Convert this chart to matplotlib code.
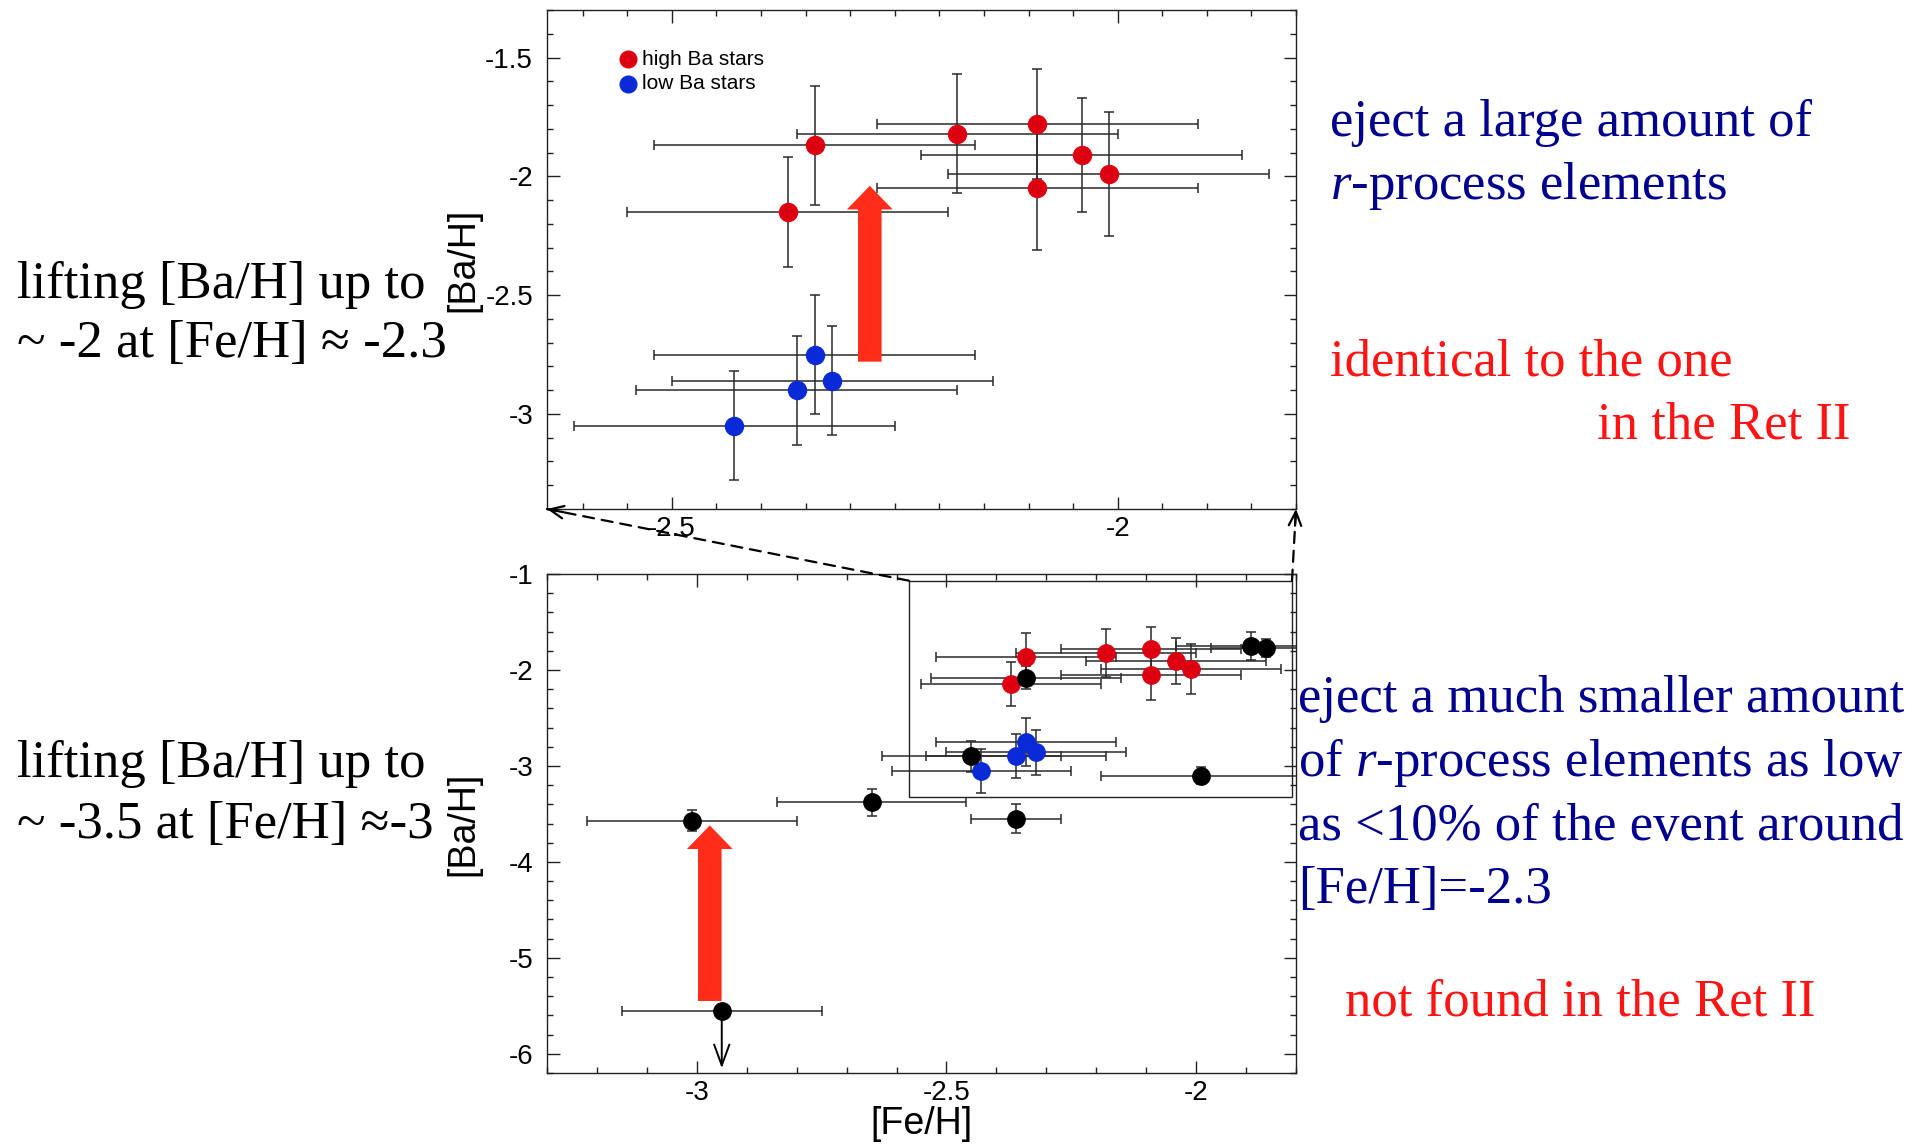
"""[Ba/H] vs [Fe/H] for Ret II-like stars: zoomed panel on top, full range below,
with annotation text on both sides."""

import matplotlib

matplotlib.use("Agg")
import matplotlib.pyplot as plt
from matplotlib.patches import ConnectionPatch, Rectangle
from matplotlib.ticker import FormatStrFormatter, MultipleLocator

# --------------------------------------------------------------------------- #
# data
# --------------------------------------------------------------------------- #
high_ba_feh = [-2.37, -2.34, -2.18, -2.09, -2.04, -2.01, -2.09]
high_ba_feh_err = [0.18, 0.18, 0.18, 0.18, 0.18, 0.18, 0.18]
high_ba_bah = [-2.15, -1.87, -1.82, -1.78, -1.91, -1.99, -2.05]
high_ba_bah_err = [0.23, 0.25, 0.25, 0.23, 0.24, 0.26, 0.26]

low_ba_feh = [-2.34, -2.32, -2.36, -2.43]
low_ba_feh_err = [0.18, 0.18, 0.18, 0.18]
low_ba_bah = [-2.75, -2.86, -2.90, -3.05]
low_ba_bah_err = [0.25, 0.23, 0.23, 0.23]

other_feh = [-3.01, -2.65, -2.36, -2.45, -2.34, -1.89, -1.86, -1.99]
other_feh_err = [0.21, 0.19, 0.09, 0.18, 0.19, 0.15, 0.11, 0.20]
other_bah = [-3.57, -3.38, -3.55, -2.90, -2.08, -1.75, -1.77, -3.10]
other_bah_err = [0.11, 0.14, 0.15, 0.16, 0.12, 0.15, 0.09, 0.09]

# upper limit star
limit_feh, limit_feh_err, limit_bah, limit_arrow_to = -2.95, 0.20, -5.55, -6.15

# zoom box drawn in the lower panel
zoom_box_feh = (-2.575, -1.808)
zoom_box_bah = (-3.32, -1.07)

# big red "lifting" arrows: (x, from, to)
lift_top = (-2.278, -2.78, -2.04)
lift_bottom = (-2.974, -5.45, -3.62)

legend_labels = ["high Ba stars", "low Ba stars"]

RED = "#dd0010"
BLUE = "#0a2ad8"
BLACK = "#000000"
ERR = "#2a2a2a"
ARROW_RED = "#ff2d1a"
NAVY = "#00008f"
TEXT_RED = "#ff1414"

W, H = 1933, 1144
plt.rcParams["font.family"] = ["Liberation Sans", "DejaVu Sans"]
plt.rcParams["axes.unicode_minus"] = False
plt.rcParams["mathtext.fontset"] = "custom"
plt.rcParams["mathtext.rm"] = "Liberation Serif"
plt.rcParams["mathtext.it"] = "Liberation Serif:italic"

fig = plt.figure(figsize=(W / 100, H / 100), dpi=100)


def px_axes(x0, y0, x1, y1):
    return fig.add_axes([x0 / W, 1 - y1 / H, (x1 - x0) / W, (y1 - y0) / H])


ax_top = px_axes(547, 10, 1296, 509)
ax_bot = px_axes(547, 574, 1296, 1073)


def style_axes(ax, xmaj, xmin, ymaj, ymin):
    ax.xaxis.set_major_locator(MultipleLocator(xmaj))
    ax.xaxis.set_minor_locator(MultipleLocator(xmin))
    ax.yaxis.set_major_locator(MultipleLocator(ymaj))
    ax.yaxis.set_minor_locator(MultipleLocator(ymin))
    ax.xaxis.set_major_formatter(FormatStrFormatter("%g"))
    ax.yaxis.set_major_formatter(FormatStrFormatter("%g"))
    ax.tick_params(which="both", direction="in", top=True, right=True,
                   width=1.0, color="#222222", labelsize=20)
    ax.tick_params(axis="x", which="both", pad=5)
    ax.tick_params(axis="y", which="both", pad=10)
    ax.tick_params(which="major", length=9)
    ax.tick_params(which="minor", length=4.5)
    for s in ax.spines.values():
        s.set_linewidth(1.0)
        s.set_color("#222222")


def draw_stars(ax, feh, feh_err, bah, bah_err, color, ms):
    ax.errorbar(feh, bah, xerr=feh_err, yerr=bah_err, fmt="none", ecolor=ERR,
                elinewidth=1.1, capsize=3.5, capthick=1.1, zorder=2)
    ax.plot(feh, bah, "o", color=color, mec=color, ms=ms, zorder=3)


def lift_arrow(ax, spec):
    x, y0, y1 = spec
    ax.annotate("", xy=(x, y1), xytext=(x, y0),
                arrowprops=dict(arrowstyle="simple,head_length=17,head_width=33,tail_width=17",
                                mutation_scale=1, color=ARROW_RED, lw=0,
                                shrinkA=0, shrinkB=0), zorder=4)


# ---- top: zoomed-in panel --------------------------------------------------
draw_stars(ax_top, high_ba_feh, high_ba_feh_err, high_ba_bah, high_ba_bah_err, RED, 13)
draw_stars(ax_top, low_ba_feh, low_ba_feh_err, low_ba_bah, low_ba_bah_err, BLUE, 13)
lift_arrow(ax_top, lift_top)
ax_top.set_xlim(-2.64, -1.8)
ax_top.set_ylim(-3.4, -1.3)
style_axes(ax_top, 0.5, 0.05, 0.5, 0.1)
ax_top.set_ylabel("[Ba/H]", fontsize=27)
ax_top.yaxis.set_label_coords(-0.087, 0.5)

# legend keys, placed by hand like the original
for (ky, color, label) in [(0.901, RED, legend_labels[0]), (0.852, BLUE, legend_labels[1])]:
    ax_top.plot([0.1077], [ky], "o", color=color, ms=12, transform=ax_top.transAxes,
                clip_on=False, zorder=5)
    ax_top.text(0.1275, ky, label, fontsize=15, va="center", ha="left",
                transform=ax_top.transAxes)

# ---- bottom: full range ----------------------------------------------------
draw_stars(ax_bot, high_ba_feh, high_ba_feh_err, high_ba_bah, high_ba_bah_err, RED, 12.5)
draw_stars(ax_bot, low_ba_feh, low_ba_feh_err, low_ba_bah, low_ba_bah_err, BLUE, 12.5)
draw_stars(ax_bot, other_feh, other_feh_err, other_bah, other_bah_err, BLACK, 12.5)
ax_bot.errorbar([limit_feh], [limit_bah], xerr=[limit_feh_err], fmt="none", ecolor=ERR,
                elinewidth=1.1, capsize=3.5, capthick=1.1, zorder=2)
ax_bot.annotate("", xy=(limit_feh, limit_arrow_to), xytext=(limit_feh, limit_bah),
                arrowprops=dict(arrowstyle="->,head_length=15,head_width=5.5",
                                mutation_scale=1, lw=1.4, color="k",
                                shrinkA=0, shrinkB=0), zorder=2)
ax_bot.plot([limit_feh], [limit_bah], "o", color=BLACK, ms=12.5, zorder=3)
lift_arrow(ax_bot, lift_bottom)

ax_bot.add_patch(Rectangle((zoom_box_feh[0], zoom_box_bah[0]),
                           zoom_box_feh[1] - zoom_box_feh[0],
                           zoom_box_bah[1] - zoom_box_bah[0],
                           fill=False, lw=1.0, ec="#222222", zorder=1))
ax_bot.set_xlim(-3.3, -1.8)
ax_bot.set_ylim(-6.2, -1.0)
style_axes(ax_bot, 0.5, 0.1, 1.0, 0.2)
ax_bot.set_xlabel("[Fe/H]", fontsize=27, labelpad=0)
ax_bot.set_ylabel("[Ba/H]", fontsize=27)
ax_bot.yaxis.set_label_coords(-0.087, 0.5)

# ---- dashed connectors from the zoom box to the top panel -----------------
dash = (0, (5, 3.5))
for box_x, corner, head_off in [(zoom_box_feh[0], (0, 0), (11.8, -2.3)),
                                (zoom_box_feh[1], (1, 0), (-0.7, -12))]:
    con = ConnectionPatch(xyA=(box_x, zoom_box_bah[1]), coordsA=ax_bot.transData,
                          xyB=corner, coordsB=ax_top.transAxes,
                          ls=dash, lw=1.6, color="k")
    fig.add_artist(con)
    ax_top.annotate("", xy=corner, xycoords="axes fraction", xytext=head_off,
                    textcoords="offset points", annotation_clip=False,
                    arrowprops=dict(arrowstyle="->,head_length=10,head_width=4.5",
                                    mutation_scale=1, lw=1.6, color="k",
                                    shrinkA=0, shrinkB=0))

# ---- annotation text -------------------------------------------------------
SERIF = ["Liberation Serif", "DejaVu Serif"]


def say(x, y, s, color="black"):
    fig.text(x / W, 1 - y / H, s, family=SERIF, fontsize=38, color=color,
             ha="left", va="baseline")


say(17, 298, "lifting [Ba/H] up to")
say(17, 357, "~ -2 at [Fe/H] \u2248 -2.3")
say(17, 777, "lifting [Ba/H] up to")
say(17, 838, "~ -3.5 at [Fe/H] \u2248-3")

say(1330, 136, "eject a large amount of", NAVY)
say(1330, 199, r"$\mathit{r}$-process elements", NAVY)
say(1330, 376, "identical to the one", TEXT_RED)
say(1597, 438, "in the Ret II", TEXT_RED)

say(1298, 712, "eject a much smaller amount", NAVY)
say(1298, 776, r"of $\mathit{r}$-process elements as low", NAVY)
say(1298, 840, "as <10% of the event around", NAVY)
say(1298, 903, "[Fe/H]=-2.3", NAVY)
say(1345, 1015, "not found in the Ret II", TEXT_RED)

fig.savefig("out.png", dpi=100)
